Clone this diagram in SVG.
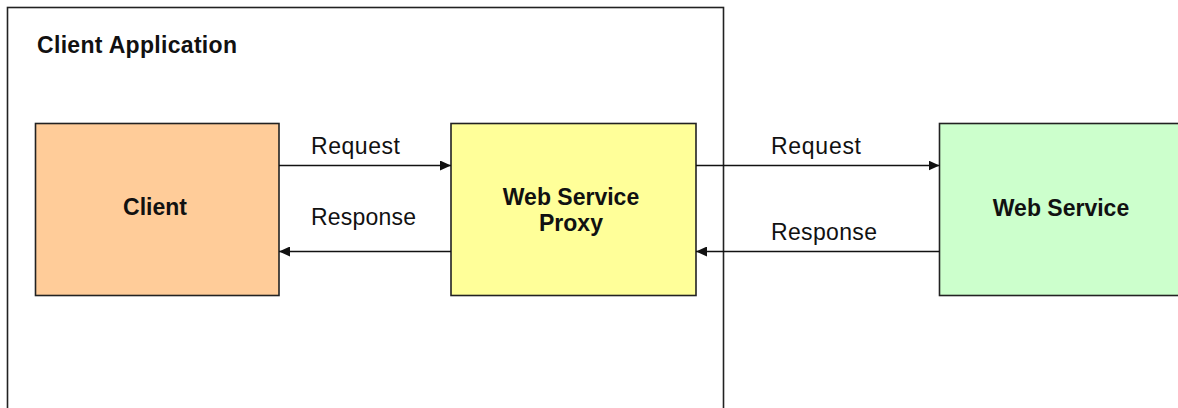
<svg xmlns="http://www.w3.org/2000/svg" width="1178" height="408" viewBox="0 0 1178 408">
<style>
.box{stroke:#222;stroke-width:1.6}
.lbl{font-family:"Liberation Sans",Arial,sans-serif;font-size:23px;fill:#111}
.b{font-weight:bold}
.conn{stroke:#111;stroke-width:1.6;fill:none;marker-end:url(#ah)}
</style>
<defs>
<marker id="ah" markerUnits="userSpaceOnUse" markerWidth="12" markerHeight="10" refX="11" refY="5" orient="auto">
<path d="M0,0 L11,5 L0,10 z" fill="#111"/>
</marker>
</defs>
<rect width="1178" height="408" fill="#fff"/>
<g id="client-application">
<rect x="7.5" y="7.5" width="716" height="420" fill="none" stroke="#222" stroke-width="1.6"/>
<text class="lbl b" x="37" y="53" textLength="200">Client Application</text>
</g>
<g id="client">
<rect class="box" x="35.5" y="123.5" width="243.5" height="172" fill="#FFCC99"/>
<text class="lbl b" x="155" y="215" text-anchor="middle">Client</text>
</g>
<g id="proxy">
<rect class="box" x="451" y="123.5" width="245" height="172" fill="#FFFF99"/>
<text class="lbl b" x="571" y="205" text-anchor="middle">Web Service</text>
<text class="lbl b" x="571" y="231" text-anchor="middle">Proxy</text>
</g>
<g id="web-service">
<rect class="box" x="939.5" y="123.5" width="260" height="172" fill="#CCFFCC"/>
<text class="lbl b" x="1061" y="216" text-anchor="middle">Web Service</text>
</g>
<g id="connectors">
<line class="conn" x1="279" y1="165.5" x2="451" y2="165.5"/>
<line class="conn" x1="451" y1="251.5" x2="279" y2="251.5"/>
<line class="conn" x1="696" y1="165.5" x2="939.5" y2="165.5"/>
<line class="conn" x1="939.5" y1="251.5" x2="696" y2="251.5"/>
<text class="lbl" x="311" y="154" textLength="89">Request</text>
<text class="lbl" x="311" y="225" textLength="105">Response</text>
<text class="lbl" x="771" y="154" textLength="90">Request</text>
<text class="lbl" x="771" y="240" textLength="106">Response</text>
</g>
</svg>
